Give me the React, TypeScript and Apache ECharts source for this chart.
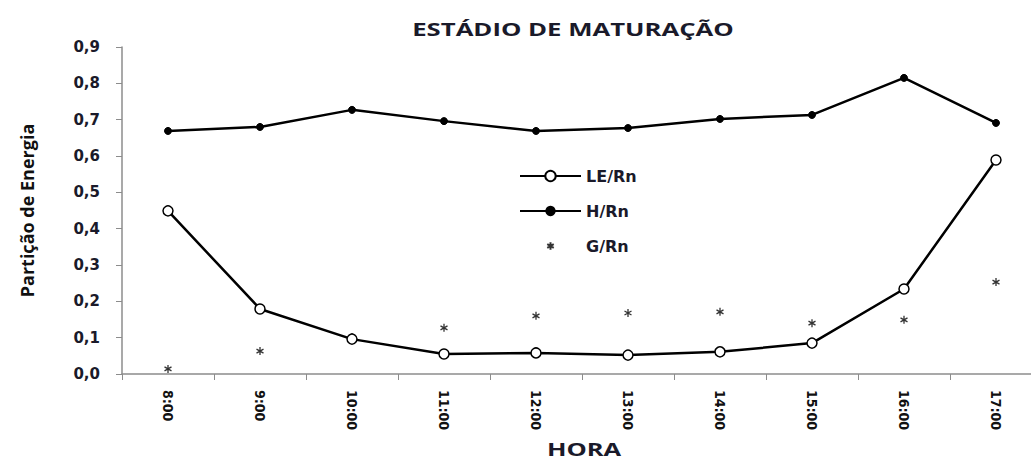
import React, { useEffect, useRef } from "react";
import * as echarts from "echarts";

const horas = ["8:00", "9:00", "10:00", "11:00", "12:00", "13:00", "14:00", "15:00", "16:00", "17:00"];
const leRn = [0.449, 0.179, 0.096, 0.055, 0.058, 0.052, 0.061, 0.085, 0.234, 0.589];
const hRn = [0.669, 0.68, 0.727, 0.696, 0.669, 0.677, 0.702, 0.713, 0.815, 0.691];
const gRn = [0.014, 0.063, 0.102, 0.127, 0.16, 0.168, 0.171, 0.14, 0.149, 0.253];

const titleText = "ESTÁDIO DE MATURAÇÃO";
const xName = "HORA";
const yName = "Partição de Energia";

// asterisk drawn inside a padded 14x14 box
const asterisk = "path://M0,0M14,14M7,3L7,11M3.5,5L10.5,9M3.5,9L10.5,5";
const FONT = "'Open Sans', 'DejaVu Sans', sans-serif";
const WIDE = "'DejaVu Sans', 'Open Sans', sans-serif";

export default function App() {
  const ref = useRef<HTMLDivElement>(null);
  useEffect(() => {
    const chart = echarts.init(ref.current!, null, { renderer: "svg" });
    chart.setOption({
      animation: false,
      backgroundColor: "#ffffff",
      graphic: [
        {
          type: "text",
          x: 573,
          y: 29,
          scaleX: 1.43,
          style: {
            text: titleText,
            font: "bold 18px 'Open Sans', sans-serif",
            fill: "#1a1a2a",
            textAlign: "center",
            textVerticalAlign: "middle",
          },
        },
        {
          type: "text",
          x: 584,
          y: 449,
          scaleX: 1.5,
          style: {
            text: xName,
            font: "bold 17px 'Open Sans', sans-serif",
            fill: "#1a1a2a",
            textAlign: "center",
            textVerticalAlign: "middle",
          },
        },
      ],
      legend: {
        orient: "vertical",
        left: 514,
        top: 161,
        itemGap: 15,
        itemWidth: 61,
        itemHeight: 13,
        textStyle: { fontFamily: WIDE, fontSize: 16, fontWeight: "bold", color: "#1a1a2a", lineHeight: 20, height: 20 },
        data: ["LE/Rn", "H/Rn", "G/Rn"],
      },
      grid: { left: 122, top: 47, bottom: 87, right: -11, outerBoundsMode: "none" },
      xAxis: {
        type: "category",
        data: horas,
        boundaryGap: true,
        axisLine: { lineStyle: { color: "#8c8c8c", width: 1.5 } },
        axisTick: { show: true, length: 6, lineStyle: { color: "#8c8c8c" } },
        axisLabel: {
          rotate: -90,
          margin: 16,
          fontFamily: "'Liberation Sans Narrow', 'DejaVu Sans Condensed', sans-serif",
          fontSize: 14,
          fontWeight: "bold",
          color: "#111",
        },
      },
      yAxis: {
        type: "value",
        min: 0,
        max: 0.9,
        interval: 0.1,
        name: yName,
        nameLocation: "middle",
        nameRotate: 90,
        nameGap: 86,
        nameMoveOverlap: false,
        nameTextStyle: { fontFamily: FONT, fontSize: 18, fontWeight: "bold", color: "#111" },
        axisLine: { show: true, lineStyle: { color: "#8c8c8c", width: 1.5 } },
        axisTick: { show: true, length: 6, lineStyle: { color: "#8c8c8c" } },
        splitLine: { show: false },
        axisLabel: {
          margin: 22,
          fontFamily: WIDE,
          fontSize: 15,
          fontWeight: "bold",
          color: "#1a1a2a",
          formatter: (v: number) => v.toFixed(1).replace(".", ","),
        },
      },
      series: [
        {
          name: "LE/Rn",
          type: "line",
          data: leRn,
          symbol: "circle",
          symbolSize: 10,
          itemStyle: { color: "#ffffff", borderColor: "#000", borderWidth: 1.5 },
          lineStyle: { color: "#000", width: 2.5 },
          z: 3,
        },
        {
          name: "H/Rn",
          type: "line",
          data: hRn,
          symbol: "circle",
          symbolSize: 7,
          itemStyle: { color: "#000", borderColor: "#000" },
          lineStyle: { color: "#000", width: 2.5 },
        },
        {
          name: "G/Rn",
          type: "scatter",
          data: gRn,
          symbol: asterisk,
          symbolSize: 14,
          itemStyle: { color: "none", borderColor: "#000", borderWidth: 1.3 },
        },
      ],
    });
    return () => chart.dispose();
  }, []);
  return <div ref={ref} style={{ position: "fixed", left: 0, top: 0, width: 1031, height: 461 }} />;
}
